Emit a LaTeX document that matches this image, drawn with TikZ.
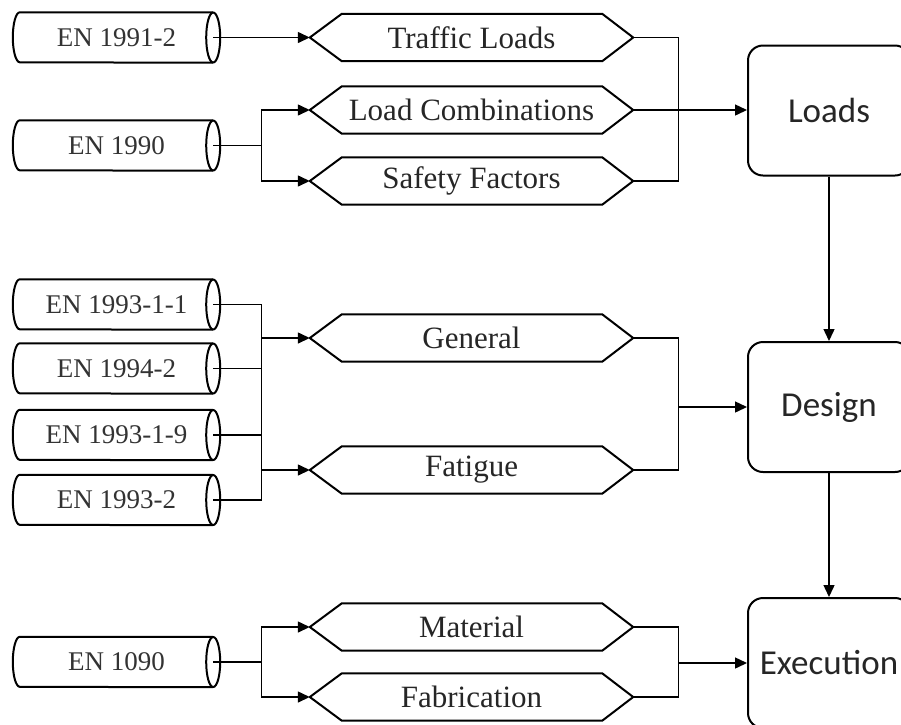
\documentclass[tikz,border=0pt]{standalone}
\usepackage{fontspec}
\setmainfont{Liberation Serif}
\newfontfamily\boxfont{Carlito}
\usetikzlibrary{arrows.meta}
\begin{document}
\begin{tikzpicture}[x=1pt,y=-1pt,
  cylbox/.style={minimum width=193pt,minimum height=50pt,inner sep=0pt,text=black!80,font=\fontsize{27}{30}\selectfont},
  hexbox/.style={minimum width=323pt,minimum height=47pt,inner sep=0pt,text=black!85,font=\fontsize{31}{34}\selectfont},
  bigbox/.style={draw,line width=2pt,rounded corners=15pt,minimum width=162pt,minimum height=130pt,inner sep=0pt,text=black!85,font=\boxfont\fontsize{35}{40}\selectfont},
  outline/.style={draw,line width=2pt,line join=round},
  conn/.style={line width=1.4pt},
  arr/.style={line width=1.4pt,-{Triangle[length=12pt,width=11pt]}}
]
\useasboundingbox (0,0) rectangle (901,724);
\fill[white] (0,0) rectangle (901,724);

% cylinders (text areas between left arc centre and right ellipse centre)
\node[cylbox] (c1) at (116.5,37.5) {EN 1991-2};
\node[cylbox] (c2) at (116.5,145.5) {EN 1990};
\node[cylbox] (c3) at (116.5,304.5) {EN 1993-1-1};
\node[cylbox] (c4) at (116.5,368.5) {EN 1994-2};
\node[cylbox] (c5) at (116.5,435) {EN 1993-1-9};
\node[cylbox] (c6) at (116.5,500) {EN 1993-2};
\node[cylbox] (c7) at (116.5,662) {EN 1090};
\foreach \n in {c1,c2,c3,c4,c5,c6,c7}{
  \draw[outline] (\n.north east) -- (\n.north west)
     arc[start angle=90,end angle=270,x radius=7pt,y radius=25pt] -- (\n.south east);
  \draw[outline] (\n.east) ellipse[x radius=7pt,y radius=25pt];
}

% hexagons
\node[hexbox] (h1) at (471.5,37.5) {Traffic Loads};
\node[hexbox] (h2) at (471.5,110) {Load Combinations};
\node[hexbox] (h3) at (471.5,181) {Safety Factors};
\node[hexbox] (h4) at (471.5,338) {General};
\node[hexbox] (h5) at (471.5,470) {Fatigue};
\node[hexbox] (h6) at (471.5,627) {Material};
\node[hexbox] (h7) at (471.5,697) {Fabrication};
\foreach \n in {h1,h2,h3,h4,h5,h6,h7}{
  \draw[outline] (\n.west) -- ([xshift=32pt]\n.north west) -- ([xshift=-31pt]\n.north east)
    -- (\n.east) -- ([xshift=-31pt]\n.south east) -- ([xshift=32pt]\n.south west) -- cycle;
}

% main boxes
\node[bigbox] (loads) at (829,110.5) {Loads};
\node[bigbox] (design) at (829,407) {Design};
\node[bigbox] (exec) at (829,663) {Execution};

% left connectors
\draw[arr] (c1.east) -- (h1.west);
\draw[conn] (c2.east) -- ++(48,0) coordinate (j1);
\draw[arr] (j1) |- (h2.west);
\draw[arr] (j1) |- (h3.west);

\draw[conn] (c3.east) -- ++(48,0) coordinate (j2) -- (j2 |- c6.east) -- (c6.east);
\draw[conn] (c4.east) -- (c4.east -| j2);
\draw[conn] (c5.east) -- (c5.east -| j2);
\draw[arr] (j2 |- h4.west) -- (h4.west);
\draw[arr] (j2 |- h5.west) -- (h5.west);

\draw[conn] (c7.east) -- ++(48,0) coordinate (j3);
\draw[arr] (j3) |- (h6.west);
\draw[arr] (j3) |- (h7.west);

% right connectors
\draw[conn] (h1.east) -- ++(45,0) coordinate (k1) -- (k1 |- h3.east) -- (h3.east);
\draw[arr] (h2.east) -- (h2.east -| loads.west);

\draw[conn] (h4.east) -- ++(45,0) coordinate (k2) -- (k2 |- h5.east) -- (h5.east);
\draw[arr] (k2 |- design.west) -- (design.west);

\draw[conn] (h6.east) -- ++(45,0) coordinate (k3) -- (k3 |- h7.east) -- (h7.east);
\draw[arr] (k3 |- exec.west) -- (exec.west);

% vertical flow
\draw[arr] (loads.south) -- (design.north);
\draw[arr] (design.south) -- (exec.north);
\end{tikzpicture}
\end{document}
